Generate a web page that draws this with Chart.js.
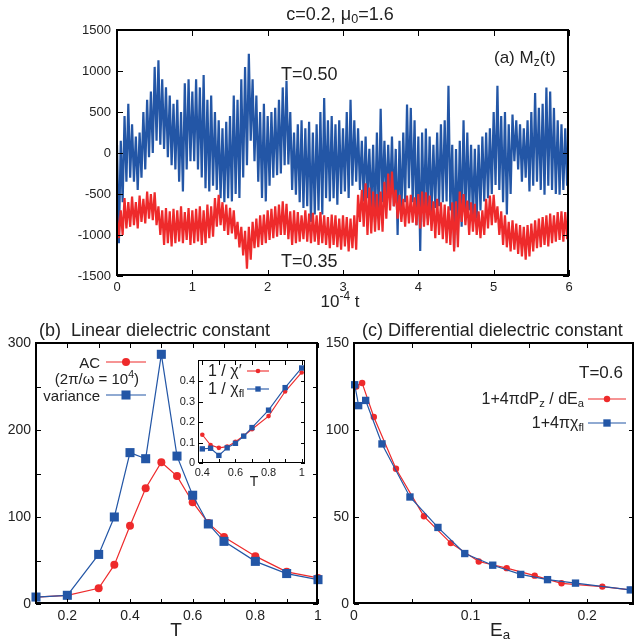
<!DOCTYPE html>
<html>
<head>
<meta charset="utf-8">
<script src="https://cdn.jsdelivr.net/npm/chart.js@4.4.1/dist/chart.umd.min.js"></script>
<style>
  body { margin: 0; background: #fff; }
  #wrap { position: relative; width: 639px; height: 644px; overflow: hidden;
          font-family: 'Liberation Sans', Arial, sans-serif; color: #222; }
  canvas { position: absolute; }
  .t { position: absolute; white-space: nowrap; line-height: 1; }
  .t sub { font-size: 70%; vertical-align: -0.25em; line-height: 0; }
  .t sup { font-size: 70%; vertical-align: 0.55em; line-height: 0; }
  .r { text-align: right; }
  .fb, .tk { position: absolute; pointer-events: none; }
  .fb { border-style: solid; border-color: #000; }
  .tk { background: #000; }
</style>
</head>
<body>
<div id="wrap">
  <canvas id="ca" style="left:0;top:0" width="639" height="310"></canvas>
  <canvas id="cb" style="left:0;top:310px" width="330" height="334"></canvas>
  <canvas id="cc" style="left:320px;top:310px" width="319" height="334"></canvas>
  <canvas id="ci" style="left:165px;top:350px" width="150" height="150"></canvas>

  <div class="t" style="left:240px;width:200px;text-align:center;top:5px;font-size:18px">c=0.2, &mu;<sub>0</sub>=1.6</div>
  <div class="t" style="left:494px;top:49px;font-size:17px">(a) M<sub>z</sub>(t)</div>
  <div class="t" style="left:281px;top:65px;font-size:18px">T=0.50</div>
  <div class="t" style="left:281px;top:252px;font-size:18px">T=0.35</div>
  <div class="t" style="left:240px;width:200px;text-align:center;top:293px;font-size:17px">10<sup>-4</sup> t</div>

  <div class="t" style="left:39px;top:321px;font-size:18px">(b)&nbsp; Linear dielectric constant</div>
  <div class="t" style="left:362px;top:321px;font-size:18px">(c) Differential dielectric constant</div>
  <div class="t" style="left:126px;width:100px;text-align:center;top:620px;font-size:19px">T</div>
  <div class="t" style="left:490px;top:620px;font-size:19px">E<sub>a</sub></div>

  <div class="t r" style="left:0;width:100px;top:355px;font-size:15px">AC</div>
  <div class="t r" style="left:0;width:139px;top:371px;font-size:15px">(2&pi;/&omega; = 10<sup>4</sup>)</div>
  <div class="t r" style="left:0;width:100px;top:388px;font-size:15px">variance</div>

  <div class="t" style="left:208px;top:363px;font-size:16px">1 / &chi;&prime;</div>
  <div class="t" style="left:208px;top:381px;font-size:16px">1 / &chi;<sub>fl</sub></div>
  <div class="t" style="left:204px;width:100px;text-align:center;top:474px;font-size:14px">T</div>

  <div class="t r" style="left:523px;width:100px;top:364px;font-size:17px">T=0.6</div>
  <div class="t r" style="left:384px;width:200px;top:391px;font-size:16px">1+4&pi;dP<sub>z</sub> / dE<sub>a</sub></div>
  <div class="t r" style="left:384px;width:200px;top:415px;font-size:16px">1+4&pi;&chi;<sub>fl</sub></div>
</div>

<script>
// ---- data ---------------------------------------------------------------
// (a) M_z(t): upper / lower extremes of the noisy traces, read every 0.05 (units of 10^4 t)
const A_T_STEP = 0.05;
const A_BLUE_HI = [
  100, 150, 450, 600, 350, 200, 250, 500, 650, 750,
  1050, 1130, 900, 800, 700, 600, 650, 500, 850, 900,
  750, 900, 800, 950, 650, 700, 500, 400, 300, 380,
  450, 700, 650, 900, 1050, 1210, 900, 700, 500, 600,
  450, 500, 550, 650, 800, 880, 500, 250, 350, 400,
  300, 380, 250, 350, 500, 670, 400, 450, 350, 400,
  300, 500, 650, 400, 300, 150, 200, 50, 100, 250,
  540, 150, 100, 200, 50, 150, 250, 590, 550, 400,
  200, 250, 300, 200, 100, 250, 350, 400, 820, 100,
  50, 150, 400, 250, 100, 50, 100, 200, 250, 300,
  500, 820, 450, 500, 350, 470, 400, 350, 300, 400,
  500, 730, 550, 600, 800, 750, 550, 400, 350, 300,
  250];
const A_BLUE_LO = [
  -1100, -600, -350, -300, -350, -450, -300, -200, -50, 0,
  150, 100, 50, -50, -150, -200, -350, -470, -200, -100,
  -100, -200, -300, -430, -470, -400, -450, -550, -600, -550,
  -590, -500, -550, -300, -150, 150, -100, -350, -550, -590,
  -400, -300, -270, -250, -150, -140, -450, -510, -600, -670,
  -650, -840, -750, -700, -750, -550, -590, -550, -630, -500,
  -470, -550, -400, -350, -450, -590, -550, -700, -840, -800,
  -600, -590, -550, -650, -1000, -760, -600, -430, -600, -880,
  -1195, -840, -800, -750, -670, -650, -600, -590, -700, -1160,
  -1000, -900, -750, -700, -840, -800, -700, -590, -550, -500,
  -390, -450, -600, -750, -500, -100, -200, -350, -300, -470,
  -400, -350, -450, -510, -400, -450, -500, -510, -450, -400,
  -200];
const A_RED_HI = [
  -760, -700, -550, -600, -530, -600, -520, -560, -470, -500,
  -480, -650, -700, -670, -710, -680, -700, -650, -720, -670,
  -700, -680, -650, -700, -630, -650, -550, -510, -600, -630,
  -670, -700, -840, -900, -950, -900, -840, -800, -760, -750,
  -700, -680, -650, -630, -590, -620, -710, -700, -720, -760,
  -700, -740, -730, -760, -720, -760, -780, -750, -760, -800,
  -760, -780, -800, -760, -510, -450, -370, -420, -470, -500,
  -470, -350, -250, -225, -450, -510, -560, -520, -510, -540,
  -500, -470, -480, -520, -590, -560, -600, -630, -650, -600,
  -590, -470, -500, -580, -600, -620, -710, -700, -560, -520,
  -510, -650, -710, -760, -840, -820, -860, -880, -900, -880,
  -860, -820, -800, -780, -760, -740, -760, -720, -710, -720,
  -750];
const A_RED_LO = [
  -1040, -1000, -920, -900, -880, -920, -840, -860, -800, -820,
  -880, -1000, -1120, -1100, -1140, -1100, -1080, -1100, -1060, -1120,
  -1100, -1080, -1120, -1100, -1040, -1020, -900, -880, -950, -1000,
  -980, -1050, -1150, -1250, -1410, -1300, -1160, -1150, -1120, -1100,
  -1060, -1040, -1020, -1000, -1000, -1050, -1120, -1100, -1080, -1050,
  -1080, -1100, -1080, -1120, -1100, -1120, -1160, -1120, -1150, -1180,
  -1140, -1200, -1160, -1180, -840, -900, -1000, -980, -960, -940,
  -960, -800, -700, -650, -800, -840, -900, -860, -850, -880,
  -920, -900, -880, -950, -1040, -1000, -1050, -1100, -1120, -1200,
  -1150, -840, -880, -1000, -960, -1000, -1040, -1000, -920, -880,
  -850, -1000, -1120, -1150, -1200, -1180, -1230, -1260, -1300, -1260,
  -1200, -1160, -1150, -1120, -1140, -1100, -1080, -1060, -1080, -1050,
  -1000];
const A_X_TICKS = [0, 1, 2, 3, 4, 5, 6];
const A_Y_TICKS = [-1500, -1000, -500, 0, 500, 1000, 1500];

// (b) linear dielectric constant vs T
const B_T   = [0.1, 0.2, 0.3, 0.35, 0.4, 0.45, 0.5, 0.55, 0.6, 0.65, 0.7, 0.8, 0.9, 1.0];
const B_AC  = [8, 10, 18, 45, 90, 133, 163, 147, 117, 93, 77, 55, 37, 30];
const B_VAR = [8, 10, 57, 100, 174, 167, 287, 170, 125, 92, 72, 49, 35, 28];
const B_X_TICKS  = [0.1, 0.2, 0.3, 0.4, 0.5, 0.6, 0.7, 0.8, 0.9, 1.0];
const B_X_LABELS = [0.2, 0.4, 0.6, 0.8, 1.0];
const B_Y_TICKS  = [0, 50, 100, 150, 200, 250, 300];
const B_Y_LABELS = [0, 100, 200, 300];

// (b) inset: inverse susceptibilities
const IN_T   = [0.4, 0.45, 0.5, 0.55, 0.6, 0.65, 0.7, 0.8, 0.9, 1.0];
const IN_CHI = [0.138, 0.088, 0.074, 0.08, 0.104, 0.133, 0.165, 0.229, 0.349, 0.442];
const IN_FL  = [0.069, 0.072, 0.037, 0.074, 0.096, 0.131, 0.173, 0.258, 0.368, 0.464];
const IN_X_TICKS  = [0.4, 0.5, 0.6, 0.7, 0.8, 0.9, 1.0];
const IN_X_LABELS = [0.4, 0.6, 0.8, 1.0];
const IN_Y_TICKS  = [0, 0.1, 0.2, 0.3, 0.4];

// (c) differential dielectric constant vs E_a (T=0.6)
const C_E_DIFF = [0.002, 0.007, 0.017, 0.036, 0.06, 0.083, 0.107, 0.131, 0.155, 0.178, 0.213, 0.237];
const C_DIFF   = [125, 127, 107.5, 77.7, 50.4, 35, 24.4, 20.6, 16.3, 11.9, 10, 8.1];
const C_E_FL   = [0.0006, 0.004, 0.01, 0.024, 0.048, 0.072, 0.095, 0.119, 0.143, 0.166, 0.19, 0.237];
const C_FL     = [126, 114, 117, 92, 61.5, 44, 29, 22.3, 17, 14, 12, 8.1];
const C_X_TICKS  = [0, 0.05, 0.1, 0.15, 0.2];
const C_X_LABELS = [0, 0.1, 0.2];
const C_Y_TICKS  = [0, 50, 100, 150];

// ---- style --------------------------------------------------------------
const RED  = '#ee2a2b';
const BLUE = '#2356a6';
const FONT = "'Liberation Sans', Arial, sans-serif";
Chart.defaults.font.family = FONT;
Chart.defaults.color = '#222';

const zip = (xs, ys) => xs.map((x, i) => ({ x, y: ys[i] }));
// noisy trace: swing between the read maximum and minimum of each 0.05 slot
function trace(hi, lo) {
  const pts = [];
  hi.forEach((h, i) => {
    pts.push({ x: i * A_T_STEP, y: h });
    pts.push({ x: i * A_T_STEP + A_T_STEP / 2, y: lo[i] });
  });
  return pts;
}
const fmt1 = v => (v === 0 || v === 1) ? String(v) : v.toFixed(1);

function linAxis(o) {
  const labels = o.labels || o.ticks;
  return {
    type: 'linear', min: o.min, max: o.max,
    grid: { display: false, drawTicks: false },
    border: { display: false },
    afterBuildTicks: s => { s.ticks = o.ticks.map(v => ({ value: v })); },
    afterFit: s => { if (o.w != null) s.width = o.w; if (o.h != null) s.height = o.h; },
    ticks: {
      padding: o.pad, color: '#222', font: { size: o.font }, autoSkip: false, maxRotation: 0,
      callback: v => labels.some(l => Math.abs(l - v) < 1e-9) ? (o.fmt ? o.fmt(v) : String(v)) : ''
    }
  };
}

// white plot background (used by the inset)
const bgPlugin = {
  id: 'bg',
  beforeDatasetsDraw(chart, args, opts) {
    if (!opts.color) return;
    const a = chart.chartArea, ctx = chart.ctx;
    ctx.save(); ctx.fillStyle = opts.color;
    ctx.fillRect(a.left, a.top, a.right - a.left, a.bottom - a.top);
    ctx.restore();
  }
};

// legend key samples (line + marker), canvas coordinates
const keyPlugin = {
  id: 'keys',
  afterDraw(chart, args, opts) {
    const ctx = chart.ctx;
    (opts.items || []).forEach(s => {
      ctx.save();
      ctx.strokeStyle = s.color; ctx.fillStyle = s.color; ctx.lineWidth = s.lw;
      ctx.beginPath(); ctx.moveTo(s.x1, s.y); ctx.lineTo(s.x2, s.y); ctx.stroke();
      Chart.helpers.drawPoint(ctx, { pointStyle: s.style, radius: s.r, rotation: 0, borderWidth: 0 }, (s.x1 + s.x2) / 2, s.y);
      ctx.restore();
    });
  }
};
Chart.register(bgPlugin, keyPlugin);

function markerSet(data, color, style, r, lw) {
  return {
    data, borderColor: color, backgroundColor: color, borderWidth: lw,
    pointStyle: style, pointRadius: r, pointBackgroundColor: color,
    pointBorderWidth: 0, clip: false, tension: 0, fill: false
  };
}

function opts(padding, scales, bg, keys) {
  return {
    responsive: false, animation: false, devicePixelRatio: 1,
    layout: { padding },
    plugins: { legend: { display: false }, tooltip: { enabled: false }, bg: { color: bg }, keys: { items: keys || [] } },
    scales
  };
}

// ---- (a) ----------------------------------------------------------------
const optA = opts({ left: 0, right: 70, top: 30, bottom: 0 }, {
  x: linAxis({ min: 0, max: 6, ticks: A_X_TICKS, pad: 4, font: 13, h: 34 }),
  y: linAxis({ min: -1500, max: 1500, ticks: A_Y_TICKS, pad: 6, font: 13, w: 117 })
});
optA.elements = { point: { radius: 0 }, line: { borderWidth: 2.2, tension: 0, borderJoinStyle: 'bevel' } };
const chartA = new Chart(document.getElementById('ca'), {
  type: 'line',
  data: { datasets: [
    { data: trace(A_RED_HI, A_RED_LO), borderColor: RED, fill: false },
    { data: trace(A_BLUE_HI, A_BLUE_LO), borderColor: BLUE, fill: false }
  ] },
  options: optA
});

// ---- (b) ----------------------------------------------------------------
const chartB = new Chart(document.getElementById('cb'), {
  type: 'line',
  data: { datasets: [
    markerSet(zip(B_T, B_VAR), BLUE, 'rect', 6.4, 1.2),
    markerSet(zip(B_T, B_AC), RED, 'circle', 4, 1.2)
  ] },
  options: opts({ left: 0, right: 12, top: 33, bottom: 0 }, {
    x: linAxis({ min: 0.1, max: 1.0, ticks: B_X_TICKS, labels: B_X_LABELS, fmt: fmt1, pad: 4, font: 14, h: 40 }),
    y: linAxis({ min: 0, max: 300, ticks: B_Y_TICKS, labels: B_Y_LABELS, pad: 5, font: 14, w: 36 })
  }, null, [
    { x1: 106, x2: 146, y: 52, color: RED, style: 'circle', r: 4, lw: 1.2 },
    { x1: 106, x2: 146, y: 85, color: BLUE, style: 'rect', r: 6.4, lw: 1.2 }
  ])
});

// ---- (b) inset ----------------------------------------------------------
const chartIn = new Chart(document.getElementById('ci'), {
  type: 'line',
  data: { datasets: [
    markerSet(zip(IN_T, IN_FL), BLUE, 'rect', 3.8, 1.1),
    markerSet(zip(IN_T, IN_CHI), RED, 'circle', 2.3, 1.1)
  ] },
  options: opts({ left: 0, right: 10, top: 8, bottom: 0 }, {
    x: linAxis({ min: 0.38, max: 1.02, ticks: IN_X_TICKS, labels: IN_X_LABELS, fmt: fmt1, pad: 3, font: 11, h: 37 }),
    y: linAxis({ min: 0, max: 0.5, ticks: IN_Y_TICKS, fmt: fmt1, pad: 4, font: 11, w: 34 })
  }, '#fff', [
    { x1: 82, x2: 104, y: 21, color: RED, style: 'circle', r: 2.3, lw: 1.1 },
    { x1: 82, x2: 104, y: 39, color: BLUE, style: 'rect', r: 3.8, lw: 1.1 }
  ])
});

// ---- (c) ----------------------------------------------------------------
const chartC = new Chart(document.getElementById('cc'), {
  type: 'line',
  data: { datasets: [
    markerSet(zip(C_E_FL, C_FL), BLUE, 'rect', 5.2, 1.2),
    markerSet(zip(C_E_DIFF, C_DIFF), RED, 'circle', 3.2, 1.2)
  ] },
  options: opts({ left: 0, right: 1, top: 33, bottom: 0 }, {
    x: linAxis({ min: 0, max: 0.24, ticks: C_X_TICKS, labels: C_X_LABELS, fmt: fmt1, pad: 4, font: 14, h: 40 }),
    y: linAxis({ min: 0, max: 150, ticks: C_Y_TICKS, pad: 5, font: 14, w: 34 })
  }, null, [
    { x1: 268, x2: 306, y: 89, color: RED, style: 'circle', r: 3.2, lw: 1.2 },
    { x1: 268, x2: 306, y: 113, color: BLUE, style: 'rect', r: 5.2, lw: 1.2 }
  ])
});

// ---- gnuplot-like boxes: thick border, inward ticks mirrored on all sides --
const wrap = document.getElementById('wrap');
function el(cls, css) {
  const d = document.createElement('div');
  d.className = cls;
  Object.assign(d.style, css);
  wrap.appendChild(d);
}
function addFrame(chart, lw, len) {
  const ox = chart.canvas.offsetLeft, oy = chart.canvas.offsetTop;
  const a = chart.chartArea, xs = chart.scales.x, ys = chart.scales.y;
  xs.ticks.forEach(t => {
    const p = Math.round(ox + xs.getPixelForValue(t.value));
    el('tk', { left: p + 'px', top: (oy + a.bottom - len) + 'px', width: '1px', height: len + 'px' });
    el('tk', { left: p + 'px', top: (oy + a.top) + 'px', width: '1px', height: len + 'px' });
  });
  ys.ticks.forEach(t => {
    const p = Math.round(oy + ys.getPixelForValue(t.value));
    el('tk', { left: (ox + a.left) + 'px', top: p + 'px', width: len + 'px', height: '1px' });
    el('tk', { left: (ox + a.right - len) + 'px', top: p + 'px', width: len + 'px', height: '1px' });
  });
  el('fb', {
    left: (ox + a.left - lw / 2) + 'px', top: (oy + a.top - lw / 2) + 'px',
    width: (a.right - a.left - lw) + 'px', height: (a.bottom - a.top - lw) + 'px',
    borderWidth: lw + 'px'
  });
}
addFrame(chartA, 2.4, 6);
addFrame(chartB, 2.4, 5);
addFrame(chartC, 2.4, 5);
addFrame(chartIn, 1.5, 4);
</script>
</body>
</html>
